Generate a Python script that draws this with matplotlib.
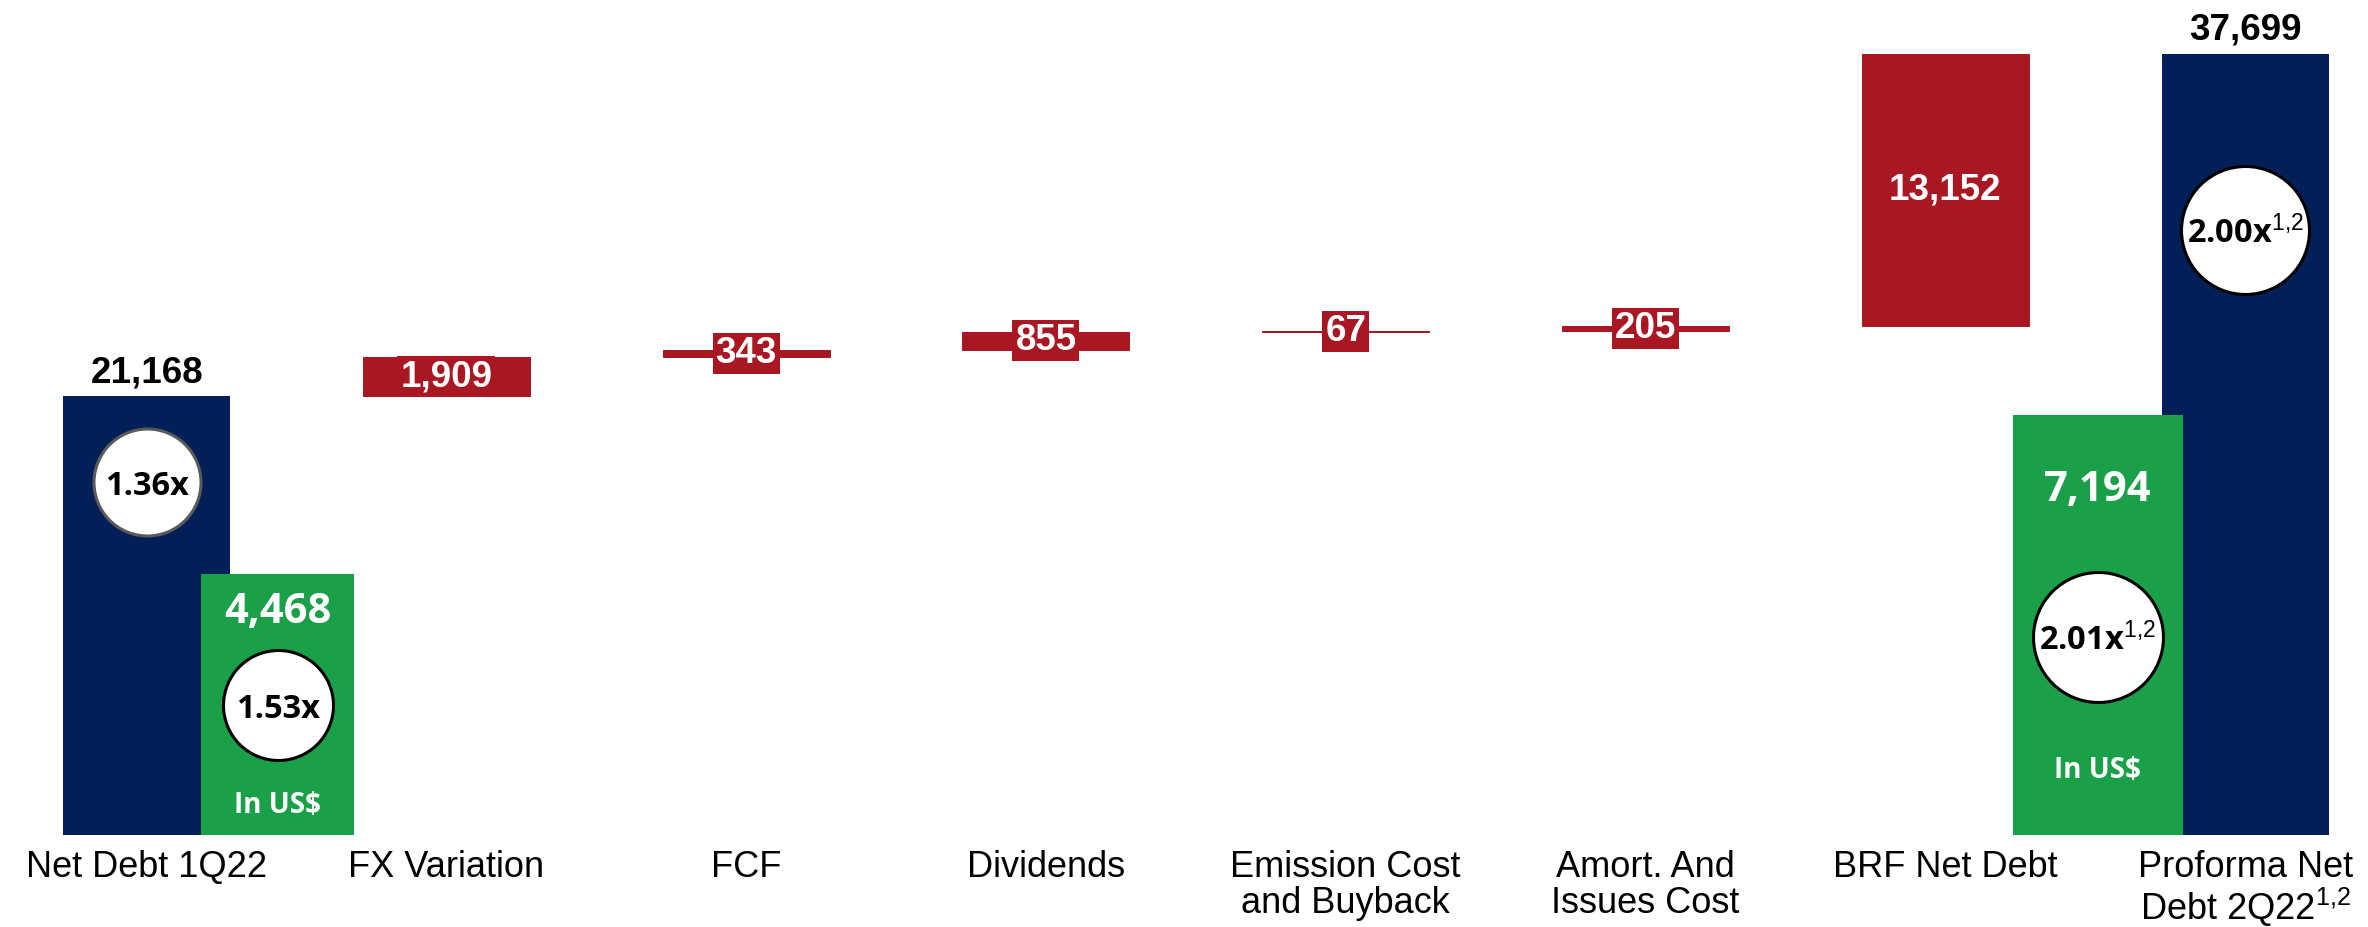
import matplotlib
matplotlib.use("Agg")
import matplotlib.pyplot as plt
from matplotlib.transforms import offset_copy
import numpy as np

# ---- data -------------------------------------------------------------
categories = [
    "Net Debt 1Q22", "FX Variation", "FCF", "Dividends",
    "Emission Cost\nand Buyback", "Amort. And\nIssues Cost",
    "BRF Net Debt", "Proforma Net\nDebt 2Q22$^{1{,}2}$",
]
opening_debt = 21168                      # R$ million
changes = [1909, 343, 855, 67, 205, 13152]  # R$ million
closing_debt = 37699                      # R$ million
usd_debt = [4468, 7194]                   # US$ million (1Q22, 2Q22)
leverage_brl = ["1.36x", "2.00x$^{1{,}2}$"]
leverage_usd = ["1.53x", "2.01x$^{1{,}2}$"]

# ---- style ------------------------------------------------------------
NAVY = "#021F58"
RED = "#A91723"
GREEN = "#1BA04A"
ARIAL = "Liberation Sans"
CALIBRI = "Open Sans"

plt.rcParams["mathtext.fontset"] = "custom"
plt.rcParams["mathtext.rm"] = ARIAL
plt.rcParams["mathtext.it"] = ARIAL
plt.rcParams["mathtext.bf"] = ARIAL + ":bold"

fig = plt.figure(figsize=(23.68, 9.27), dpi=100)
ax = fig.add_axes([0, 1 - 835 / 927, 1, 835 / 927])
ax2 = ax.twinx()

BAR_W = 0.557
n = len(categories)
x = np.arange(n)

# waterfall geometry
bottoms = opening_debt + np.concatenate([[0], np.cumsum(changes)[:-1]])

ax.bar(x[0], opening_debt, width=BAR_W, color=NAVY, zorder=1)
ax.bar(x[-1], closing_debt, width=BAR_W, color=NAVY, zorder=1)
ax.bar(x[1:-1], changes, bottom=bottoms, width=BAR_W, color=RED,
       edgecolor=RED, linewidth=0.7, zorder=1)

# US$ bars drawn on their own scale
usd_x = [x[0] + 0.437, x[-1] - 0.492]
usd_w = [0.510, 0.567]
ax2.bar(usd_x, usd_debt, width=usd_w, color=GREEN, zorder=1)

ax.set_xlim(-0.489, 7.41)
ax.set_ylim(0, 40300)
ax2.set_ylim(0, 14300)

for a in (ax, ax2):
    for s in a.spines.values():
        s.set_visible(False)
    a.set_yticks([])
ax2.tick_params(axis="x", length=0)

ax.set_xticks(x)
ax.set_xticklabels(categories, fontsize=26, family=ARIAL,
                   linespacing=1.04, math_fontfamily="custom")
ax.tick_params(axis="x", length=0, pad=10.5)

# value labels on the navy totals
for xi, v in ((x[0], opening_debt), (x[-1], closing_debt)):
    ax.annotate(f"{v:,}", xy=(xi, v), xytext=(0, 6), textcoords="offset pixels",
                ha="center", va="bottom", fontsize=26.5, fontweight="bold",
                family=ARIAL, color="black", zorder=5)

# value labels on the red steps
for xi, b, v in zip(x[1:-1], bottoms, changes):
    ax.annotate(f"{v:,}", xy=(xi, b + v / 2), ha="center", va="center",
                fontsize=26.5, fontweight="bold", family=ARIAL, color="white",
                bbox=dict(boxstyle="square,pad=0.08", fc=RED, ec="none"),
                zorder=5)


def badge(axis, xi, yi, dy, text, diameter, edge):
    """White round badge with a leverage multiple, dy pixels from (xi, yi)."""
    tr = offset_copy(axis.transData, fig=fig, x=0, y=dy, units="dots")
    s = (diameter * 72 / fig.dpi) ** 2
    axis.scatter([xi], [yi], s=s, marker="o", facecolor="white",
                 edgecolor=edge, linewidth=2.2, transform=tr, zorder=4,
                 clip_on=False)
    axis.annotate(text, xy=(xi, yi), xytext=(0, dy), textcoords="offset pixels",
                  ha="center", va="center_baseline", fontsize=23.5,
                  fontweight="bold", family=CALIBRI, color="black",
                  math_fontfamily="custom", zorder=6)


# R$ leverage badges on the navy bars
badge(ax, x[0], opening_debt, -86, leverage_brl[0], 107, "#5A5A5A")
badge(ax, x[-1], closing_debt, -176, leverage_brl[1], 128, "black")

# US$ bars: value, leverage badge, currency note
usd_label_dy = [227, 350]
usd_badge_dy = [130, 198]
usd_note_dy = [33, 68]
usd_badge_d = [110, 130]
for xi, v, lev, ldy, bdy, ndy, bd in zip(usd_x, usd_debt, leverage_usd,
                                         usd_label_dy, usd_badge_dy,
                                         usd_note_dy, usd_badge_d):
    ax2.annotate(f"{v:,}", xy=(xi, 0), xytext=(0, ldy),
                 textcoords="offset pixels", ha="center",
                 va="center_baseline", fontsize=30, fontweight="bold",
                 family=CALIBRI, color="white", zorder=6)
    badge(ax2, xi, 0, bdy, lev, bd, "black")
    ax2.annotate("In US$", xy=(xi, 0), xytext=(0, ndy),
                 textcoords="offset pixels", ha="center",
                 va="center_baseline", fontsize=20, fontweight="bold",
                 family=CALIBRI, color="white", zorder=6)

fig.savefig("out.png", dpi=100, facecolor="white")
